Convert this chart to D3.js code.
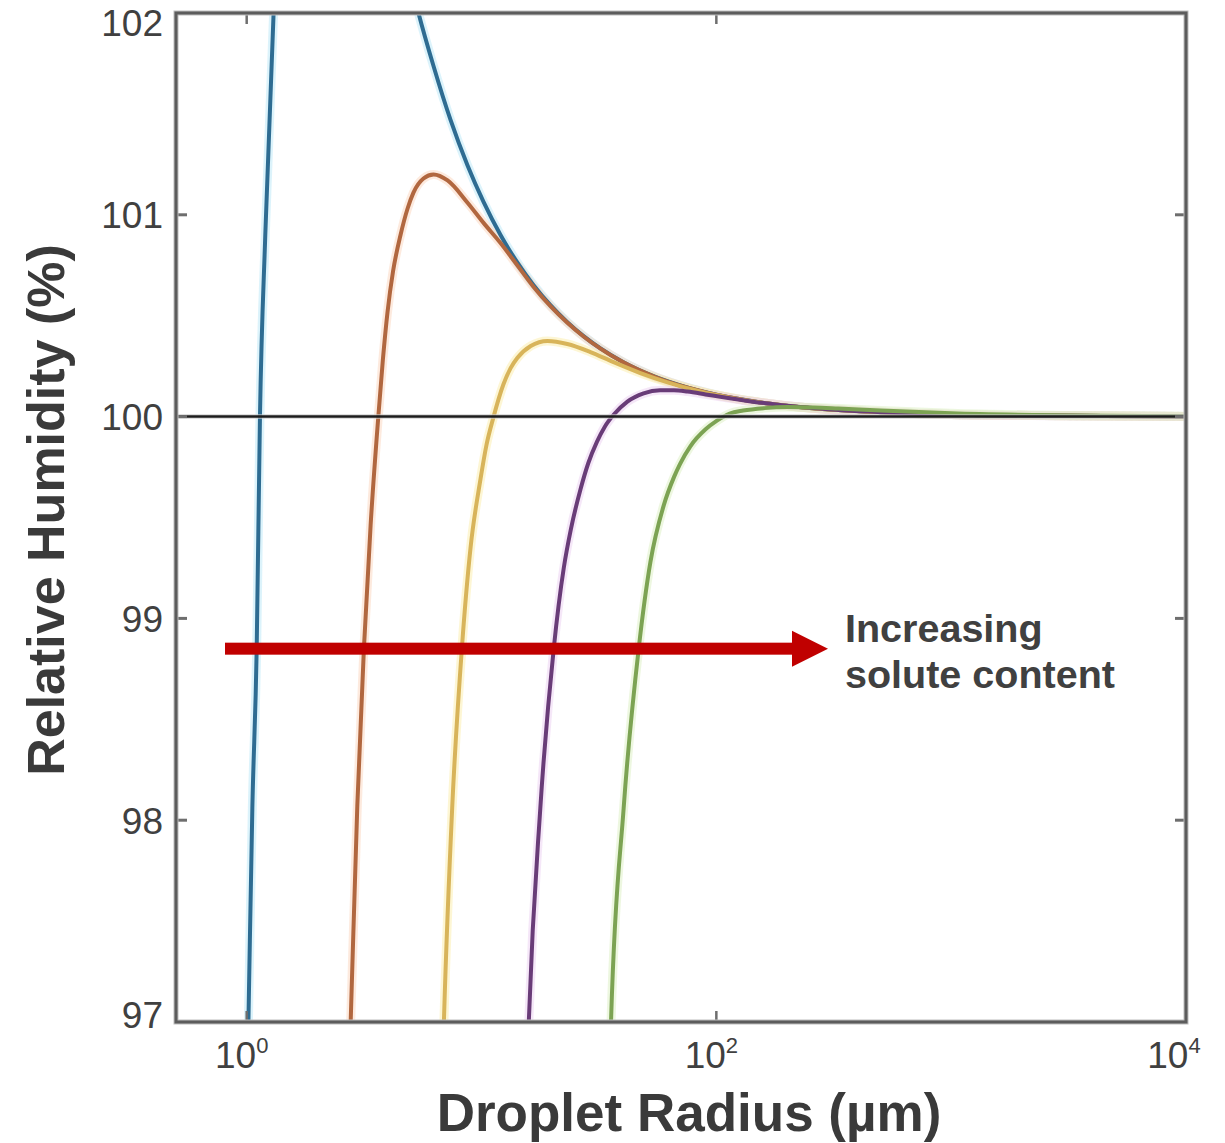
<!DOCTYPE html>
<html>
<head>
<meta charset="utf-8">
<script src="https://cdn.jsdelivr.net/npm/d3@7"></script>
<style>
  html, body { margin: 0; padding: 0; background: #fff; }
  svg text { font-family: "Liberation Sans", Arial, Helvetica, sans-serif; }
</style>
</head>
<body>
<div id="chart"></div>
<script>
// Koehler curves: [radius in um, relative humidity in %]
// (the blue peak sits above the frame, those points are guesses)
var seriesBlue = [
    [1.0, 96.55], [1.017, 97.0], [1.057, 98.06], [1.103, 98.85], [1.139, 100.0],
    [1.2, 100.9], [1.3, 101.98], [1.45, 102.86], [1.7, 103.5], [2.0, 103.66],
    [2.5, 103.45], [3.2, 103.05], [4.2, 102.55], [5.39, 102.0], [6.25, 101.736],
    [7.38, 101.47], [8.72, 101.244], [10.2, 101.064], [12.05, 100.9], [14.2, 100.764],
    [16.6, 100.654], [19.7, 100.551], [23.2, 100.468], [27.2, 100.399], [32.1, 100.338],
    [40, 100.271], [55, 100.197], [75, 100.145], [100, 100.108], [150, 100.072],
    [250, 100.043], [500, 100.022], [1000, 100.011], [3000, 100.004], [10000, 100.001]
];
var seriesOrange = [
    [2.72, 96.7], [2.772, 97.0], [2.958, 98.07], [3.156, 98.85], [3.37, 99.46],
    [3.635, 100.0], [3.8, 100.28], [3.98, 100.52], [4.2, 100.72], [4.52, 100.9],
    [4.84, 101.03], [5.13, 101.11], [5.66, 101.18], [6.25, 101.2], [7.17, 101.17],
    [8.72, 101.06], [10.2, 100.96], [12.05, 100.86], [14.2, 100.75], [16.6, 100.645],
    [19.7, 100.546], [23.2, 100.465], [27.2, 100.397], [32.1, 100.337], [40, 100.27],
    [55, 100.196], [75, 100.144], [100, 100.108], [150, 100.072], [250, 100.043],
    [500, 100.022], [1000, 100.011], [3000, 100.004], [10000, 100.001]
];
var seriesYellow = [
    [6.8, 96.7], [6.915, 97.0], [7.5, 98.06], [8.27, 98.87], [8.98, 99.35],
    [9.9, 99.69], [10.5, 99.86], [11.2, 99.99], [12.4, 100.16], [13.3, 100.24],
    [14.2, 100.29], [16.2, 100.35], [19.1, 100.375], [23.2, 100.36], [29.1, 100.32],
    [36.5, 100.27], [47.5, 100.216], [62, 100.17], [83, 100.128], [114, 100.094],
    [169, 100.064], [250, 100.043], [500, 100.022], [1000, 100.011], [3000, 100.004],
    [10000, 100.001]
];
var seriesPurple = [
    [15.6, 96.7], [15.9, 97.0], [17.8, 98.06], [20.3, 98.85], [22.4, 99.25],
    [24, 99.44], [26.4, 99.64], [28.5, 99.77], [31, 99.875], [33.5, 99.95],
    [36.6, 100.01], [41.8, 100.074], [49, 100.115], [57.6, 100.13], [66, 100.13],
    [75.3, 100.124], [90, 100.11], [104, 100.098], [143, 100.074], [187, 100.058],
    [300, 100.036], [600, 100.018], [1000, 100.011], [3000, 100.004], [10000, 100.001]
];
var seriesGreen = [
    [35, 96.7], [35.6, 97.0], [40.3, 98.06], [46.7, 98.85], [52.4, 99.28],
    [59.7, 99.56], [66, 99.70], [70, 99.765], [77.5, 99.853], [90, 99.937],
    [100.6, 99.98], [114, 100.015], [130, 100.03], [160, 100.042], [200, 100.047],
    [260, 100.045], [330, 100.04], [500, 100.03], [1000, 100.016], [3000, 100.006],
    [10000, 100.002]
];

var xTicks = [1, 100, 10000],
    xTickExp = ["0", "2", "4"],
    yTicks = [97, 98, 99, 100, 101, 102];

var curves = [
    { data: seriesBlue,   color: "#2e6c92", glow: "#bfe9f7" },
    { data: seriesOrange, color: "#b1673f", glow: "#fbd9c3" },
    { data: seriesYellow, color: "#d8b45a", glow: "#fbeeb0" },
    { data: seriesPurple, color: "#693c78", glow: "#ecd3f2" },
    { data: seriesGreen,  color: "#7ca353", glow: "#dff1c6" }
];

var width = 1225,
    height = 1143,
    plot = { left: 176, right: 1186, top: 13, bottom: 1022 };

var svg = d3.select("#chart").append("svg")
    .attr("width", width).attr("height", height);

var x = d3.scaleLog().domain([0.5, 10000]).range([plot.left, plot.right]),
    y = d3.scaleLinear().domain([97, 102]).range([plot.bottom, plot.top]);

svg.append("clipPath").attr("id", "clip")
  .append("rect")
    .attr("x", plot.left).attr("y", plot.top)
    .attr("width", plot.right - plot.left)
    .attr("height", plot.bottom - plot.top);

var line = d3.line()
    .x(function(d) { return x(d[0]); })
    .y(function(d) { return y(d[1]); })
    .curve(d3.curveMonotoneX);

var curveLayer = svg.append("g").attr("clip-path", "url(#clip)");

// soft halo first (the picture is a bit blurred), then the line itself
curves.forEach(function(c) {
    curveLayer.append("path")
        .attr("d", line(c.data))
        .attr("fill", "none")
        .attr("stroke", c.glow)
        .attr("stroke-width", 9)
        .attr("stroke-opacity", 0.55);
});
curves.forEach(function(c) {
    curveLayer.append("path")
        .attr("d", line(c.data))
        .attr("fill", "none")
        .attr("stroke", c.color)
        .attr("stroke-width", 4);
});

// 100 % line
svg.append("line")
    .attr("x1", plot.left).attr("x2", plot.right)
    .attr("y1", y(100)).attr("y2", y(100))
    .attr("stroke", "#c8c8c8").attr("stroke-width", 5)
    .attr("stroke-opacity", 0.6);
svg.append("line")
    .attr("x1", plot.left).attr("x2", plot.right)
    .attr("y1", y(100)).attr("y2", y(100))
    .attr("stroke", "#1c1c1c").attr("stroke-width", 2.5);

// ticks, inward on all four sides
var tickColor = "#6e6e6e", tickLen = 11;
yTicks.forEach(function(v) {
    svg.append("line")
        .attr("x1", plot.left).attr("x2", plot.left + tickLen)
        .attr("y1", y(v)).attr("y2", y(v))
        .attr("stroke", tickColor).attr("stroke-width", 3);
    svg.append("line")
        .attr("x1", plot.right - tickLen).attr("x2", plot.right)
        .attr("y1", y(v)).attr("y2", y(v))
        .attr("stroke", tickColor).attr("stroke-width", 3);
});
xTicks.forEach(function(v) {
    svg.append("line")
        .attr("x1", x(v)).attr("x2", x(v))
        .attr("y1", plot.bottom).attr("y2", plot.bottom - tickLen)
        .attr("stroke", tickColor).attr("stroke-width", 2.5);
    svg.append("line")
        .attr("x1", x(v)).attr("x2", x(v))
        .attr("y1", plot.top).attr("y2", plot.top + tickLen)
        .attr("stroke", tickColor).attr("stroke-width", 2.5);
});

// box
svg.append("rect")
    .attr("x", plot.left).attr("y", plot.top)
    .attr("width", plot.right - plot.left)
    .attr("height", plot.bottom - plot.top)
    .attr("fill", "none")
    .attr("stroke", "#bdbdbd").attr("stroke-width", 5);
svg.append("rect")
    .attr("x", plot.left).attr("y", plot.top)
    .attr("width", plot.right - plot.left)
    .attr("height", plot.bottom - plot.top)
    .attr("fill", "none")
    .attr("stroke", "#5c5c5c").attr("stroke-width", 3);

// tick labels
svg.selectAll(".ylab").data(yTicks).enter().append("text")
    .attr("class", "ylab")
    .attr("x", 163)
    .attr("y", function(d) { return Math.min(Math.max(y(d), 23), 1015); })
    .attr("dy", "0.36em")
    .attr("text-anchor", "end")
    .attr("fill", "#404040")
    .style("font-size", "37px")
    .text(function(d) { return d; });

var xl = svg.selectAll(".xlab").data(xTicks).enter().append("text")
    .attr("class", "xlab")
    .attr("x", function(d, i) { return x(d) - (i === 2 ? 12 : 5); })
    .attr("y", 1068)
    .attr("text-anchor", "middle")
    .attr("fill", "#404040")
    .style("font-size", "37px");
xl.append("tspan").text("10");
xl.append("tspan")
    .attr("dy", -15)
    .style("font-size", "22px")
    .text(function(d, i) { return xTickExp[i]; });

// axis titles
svg.append("text")
    .attr("x", 689).attr("y", 1131)
    .attr("text-anchor", "middle")
    .attr("fill", "#3a3a3a")
    .style("font-size", "53px").style("font-weight", "bold")
    .text("Droplet Radius (µm)");

svg.append("text")
    .attr("transform", "translate(64,510) rotate(-90)")
    .attr("text-anchor", "middle")
    .attr("fill", "#3a3a3a")
    .style("font-size", "52px").style("font-weight", "bold")
    .text("Relative Humidity (%)");

// annotation arrow
var arrowY = 98.85;
svg.append("rect")
    .attr("x", 225).attr("y", y(arrowY) - 6)
    .attr("width", 792 - 225).attr("height", 12)
    .attr("fill", "#c00000");
svg.append("path")
    .attr("d", "M792," + (y(arrowY) - 18) + "L828," + y(arrowY) + "L792," + (y(arrowY) + 18) + "Z")
    .attr("fill", "#c00000");

var note = svg.append("text")
    .attr("x", 845).attr("y", 642)
    .attr("fill", "#404040")
    .style("font-size", "39.5px").style("font-weight", "bold");
note.append("tspan").attr("x", 845).text("Increasing");
note.append("tspan").attr("x", 845).attr("dy", 46).text("solute content");
</script>
</body>
</html>
